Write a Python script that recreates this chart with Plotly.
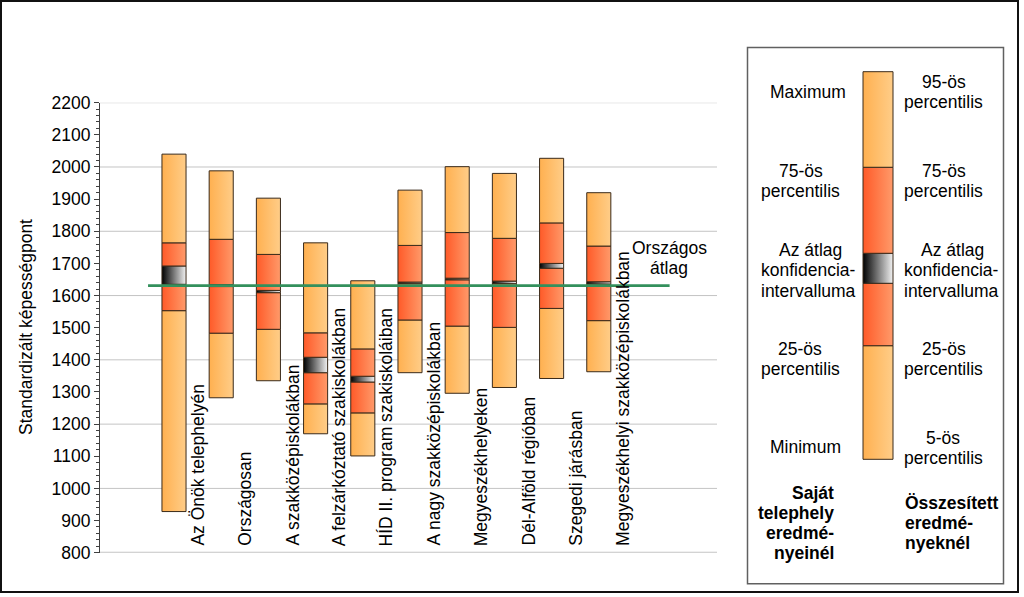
import plotly.graph_objects as go

# ---------------- data ----------------
categories = [
    "Az Önök telephelyén",
    "Országosan",
    "A szakközépiskolákban",
    "A felzárkóztató szakiskolákban",
    "HÍD II. program szakiskoláiban",
    "A nagy szakközépiskolákban",
    "Megyeszékhelyeken",
    "Dél-Alföld régióban",
    "Szegedi járásban",
    "Megyeszékhelyi szakközépiskolákban",
]
low_vals = [928, 1282, 1335, 1170, 1101, 1360, 1296, 1314, 1342, 1363]      # min / 5th pct
q1_vals = [1553, 1483, 1495, 1263, 1235, 1524, 1505, 1501, 1560, 1522]       # 25th pct
ci_low_vals = [1635, 1628, 1609, 1360, 1331, 1637, 1649, 1637, 1685, 1636]   # mean CI low
ci_high_vals = [1692, 1634, 1616, 1408, 1349, 1642, 1654, 1645, 1700, 1643]  # mean CI high
q3_vals = [1764, 1775, 1728, 1484, 1434, 1756, 1796, 1778, 1826, 1754]       # 75th pct
high_vals = [2040, 1988, 1903, 1764, 1646, 1928, 2001, 1980, 2027, 1920]     # max / 95th pct
national_avg = 1631

y_range = [800, 2200]
y_tick_step = 100
y_grid_values = [800, 1000, 1200, 1400, 1600, 1800, 2000, 2200]

# schematic legend bar levels (0..100 scale)
legend_levels = [0, 29.31, 45.41, 53.15, 75.34, 100]

# ---------------- style ----------------
W, H = 1024, 597
FONT = "Liberation Sans, Arial, sans-serif"
FS = 17.5
OUTLINE = "#3A2A1A"
C_LIGHT = ["#FFB050", "#FFCD88"]
C_RED = ["#FF5A28", "#FF9A6A"]
C_CI = ["#000000", "#F2F2F2"]
GREEN = "#33905C"
HALF_W = 0.255


def px(x):
    return x / W


def py(y):
    return 1 - y / H


def seg(x0, x1, y0, y1, cols, xa="x", ya="y"):
    return go.Scatter(
        x=[x0, x1, x1, x0, x0], y=[y0, y0, y1, y1, y0],
        mode="lines", fill="toself",
        fillgradient=dict(type="horizontal", colorscale=[[0, cols[0]], [1, cols[1]]]),
        line=dict(color=OUTLINE, width=1),
        hoverinfo="skip", showlegend=False, xaxis=xa, yaxis=ya,
    )


fig = go.Figure()

# main box bars
for i in range(len(categories)):
    x0, x1 = i - HALF_W, i + HALF_W
    levels = [low_vals[i], q1_vals[i], ci_low_vals[i], ci_high_vals[i], q3_vals[i], high_vals[i]]
    cols = [C_LIGHT, C_RED, C_CI, C_RED, C_LIGHT]
    for k in range(5):
        fig.add_trace(seg(x0, x1, levels[k], levels[k + 1], cols[k]))

# national average line
fig.add_trace(go.Scatter(
    x=[-0.55, 10.5], y=[national_avg, national_avg], mode="lines",
    line=dict(color=GREEN, width=2.6), hoverinfo="skip", showlegend=False,
))

# legend schematic bar
lcols = [C_LIGHT, C_RED, C_CI, C_RED, C_LIGHT]
for k in range(5):
    fig.add_trace(seg(0, 1, legend_levels[k], legend_levels[k + 1], lcols[k], "x2", "y2"))

x_lo = (100 - 174) / 47.2
x_hi = (718 - 174) / 47.2

fig.update_layout(
    width=W, height=H, autosize=False,
    margin=dict(l=0, r=0, t=0, b=0, pad=0),
    paper_bgcolor="white", plot_bgcolor="white",
    font=dict(family=FONT, size=FS, color="black"),
    xaxis=dict(domain=[px(100), px(718)], range=[x_lo, x_hi], showgrid=False, automargin=False,
               zeroline=False, showticklabels=False, ticks="", showline=False, fixedrange=True),
    yaxis=dict(domain=[py(552.7), py(102.7)], range=y_range, dtick=y_tick_step, tick0=800,
               automargin=False,
               showgrid=False, zeroline=False, showline=True, linecolor="#404040", linewidth=1,
               ticks="outside", ticklen=5, tickcolor="#404040", tickwidth=1,
               minor=dict(dtick=20, ticks="outside", ticklen=3, tickcolor="#404040"),
               tickfont=dict(family=FONT, size=FS, color="black"), fixedrange=True),
    xaxis2=dict(domain=[px(862), px(894)], range=[-1 / 30, 1 + 1 / 30], visible=False,
                anchor="y2", fixedrange=True, automargin=False),
    yaxis2=dict(domain=[py(460.3), py(70.7)], range=[-0.258, 100.258], visible=False,
                anchor="x2", fixedrange=True, automargin=False),
)

shapes = []
# gridlines
for g in y_grid_values:
    shapes.append(dict(type="line", xref="paper", yref="y", x0=px(100), x1=px(717),
                       y0=g, y1=g, line=dict(color="#C4C4C4", width=2 if g == y_range[0] else 1),
                       layer="below"))
# legend frame
shapes.append(dict(type="rect", xref="paper", yref="paper", x0=px(747.5), x1=px(1003.5),
                   y0=py(583.7), y1=py(47.5), line=dict(color="#606060", width=1.5)))
# outer frame
shapes.append(dict(type="rect", xref="paper", yref="paper", x0=px(1), x1=px(1018),
                   y0=py(592), y1=py(1), line=dict(color="#111111", width=2)))
fig.update_layout(shapes=shapes)

ann = []
# y-axis title
ann.append(dict(text="Standardizált képességpont", xref="paper", yref="paper",
                x=px(26), y=py(327), textangle=-90, showarrow=False,
                xanchor="center", yanchor="middle", font=dict(size=FS)))
# category labels
for i, c in enumerate(categories):
    ann.append(dict(text=c, xref="x", yref="paper", x=i + 0.5, y=py(548), textangle=-90,
                    showarrow=False, xanchor="center", yanchor="bottom", font=dict(size=FS)))
# national average label
ann.append(dict(text="Országos", xref="paper", yref="paper", x=px(669), y=py(248.3),
                showarrow=False, xanchor="center", yanchor="middle", font=dict(size=FS)))
ann.append(dict(text="átlag", xref="paper", yref="paper", x=px(669), y=py(268.3),
                showarrow=False, xanchor="center", yanchor="middle", font=dict(size=FS)))

# legend texts
legend_texts = [
    ("Maximum", 808, 91.7), ("75-ös", 800.5, 171), ("percentilis", 800.8, 190.7),
    ("Az átlag", 810.8, 250), ("konfidencia-", 808.3, 270), ("intervalluma", 808.7, 290.7),
    ("25-ös", 800, 349.3), ("percentilis", 800, 369.3), ("Minimum", 805, 447.3),
    ("95-ös", 943.7, 81.7), ("percentilis", 943.3, 101.7),
    ("75-ös", 943.7, 171), ("percentilis", 943.3, 190.7),
    ("Az átlag", 952.5, 250), ("konfidencia-", 951.7, 270), ("intervalluma", 951.7, 290.7),
    ("25-ös", 943.7, 349.3), ("percentilis", 943.3, 369.3),
    ("5-ös", 943.3, 437.7), ("percentilis", 943.3, 458.3),
]
for t, x, y in legend_texts:
    ann.append(dict(text=t, xref="paper", yref="paper", x=px(x), y=py(y), showarrow=False,
                    xanchor="center", yanchor="middle", font=dict(size=FS)))
for t, y in [("Saját", 492.7), ("telephely", 512.7), ("eredmé-", 532.7), ("nyeinél", 552.7)]:
    ann.append(dict(text="<b>%s</b>" % t, xref="paper", yref="paper", x=px(836), y=py(y),
                    showarrow=False, xanchor="right", yanchor="middle", font=dict(size=FS)))
for t, y in [("Összesített", 502.7), ("eredmé-", 522.7), ("nyeknél", 542.7)]:
    ann.append(dict(text="<b>%s</b>" % t, xref="paper", yref="paper", x=px(903.3), y=py(y),
                    showarrow=False, xanchor="left", yanchor="middle", font=dict(size=FS)))
fig.update_layout(annotations=ann)

fig.write_html("out.html", config={"displayModeBar": False})
